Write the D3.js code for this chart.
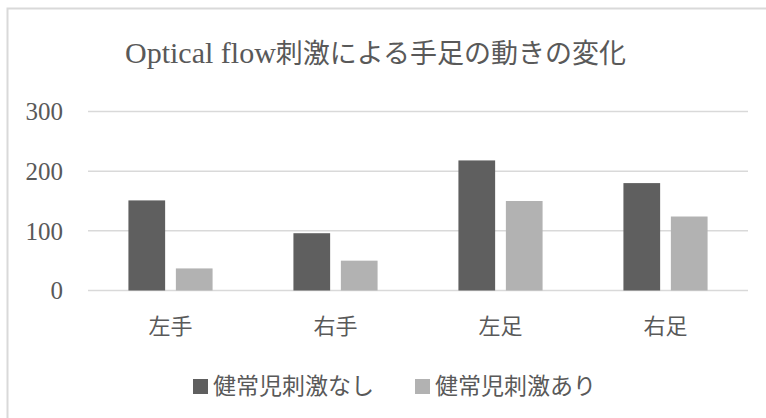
<!DOCTYPE html>
<html><head><meta charset="utf-8">
<script src="https://cdn.jsdelivr.net/npm/d3@7"></script>
<style>
html,body{margin:0;padding:0;background:#fff;}
text{font-family:'Liberation Serif','Noto Sans CJK JP',serif;fill:#595959;}
</style></head>
<body>
<svg id="c" width="766" height="418"></svg>
<script>
const titleLatin = "Optical flow";
const titleCJK = "刺激による手足の動きの変化";
const categories = ["左手","右手","左足","右足"];
const seriesNames = ["健常児刺激なし","健常児刺激あり"];
const seriesNone = [151, 96, 218, 180];
const seriesWith = [37, 50, 150, 124];
const yTicks = [0,100,200,300];
const colors = ["#5f5f5f","#b2b2b2"];

const svg = d3.select("#c");
// chart frame (cropped)
svg.append("rect").attr("x",7.5).attr("y",8.5).attr("width",800).attr("height",450)
  .attr("fill","#fff").attr("stroke","#d9d9d9").attr("stroke-width",2);

const plotL=88, plotR=748;
const x0 = d3.scaleBand().domain(categories).range([plotL,plotR]).padding(0);
const y = d3.scaleLinear().domain([0,300]).range([290.5,111.5]);
const bw = x0.bandwidth()*0.2225, gap = x0.bandwidth()*0.065;

// gridlines
svg.append("g").selectAll("line").data(yTicks).join("line")
  .attr("x1",plotL).attr("x2",plotR).attr("y1",d=>y(d)).attr("y2",d=>y(d))
  .attr("stroke","#d9d9d9").attr("stroke-width",1.5);

// y labels
svg.append("g").selectAll("text").data(yTicks).join("text")
  .attr("x",63).attr("y",d=>y(d)).attr("dy","0.35em").attr("text-anchor","end")
  .attr("font-size",25).text(d=>d);

const data = [seriesNone, seriesWith];
data.forEach((vals,si)=>{
  svg.append("g").selectAll("rect").data(categories).join("rect")
    .attr("x",(c)=>{const cx=x0(c)+x0.bandwidth()/2; return si===0? cx-gap/2-bw : cx+gap/2;})
    .attr("width",bw)
    .attr("y",(c,i)=>y(vals[i]))
    .attr("height",(c,i)=>y(0)-y(vals[i]))
    .attr("fill",colors[si]);
});

// category labels
svg.append("g").selectAll("text").data(categories).join("text")
  .attr("x",c=>x0(c)+x0.bandwidth()/2).attr("y",326).attr("dy","0.35em")
  .attr("text-anchor","middle").attr("font-size",22).text(c=>c);

// title
const t = svg.append("text").attr("x",125).attr("y",63);
t.append("tspan").attr("font-size",30).text(titleLatin);
t.append("tspan").attr("font-size",27).text(titleCJK);

// legend
const legX=[193,415];
seriesNames.forEach((n,i)=>{
  svg.append("rect").attr("x",legX[i]).attr("y",379).attr("width",15).attr("height",15).attr("fill",colors[i]);
  svg.append("text").attr("x",legX[i]+20).attr("y",386).attr("dy","0.35em").attr("font-size",23).text(n);
});
</script>
</body></html>
